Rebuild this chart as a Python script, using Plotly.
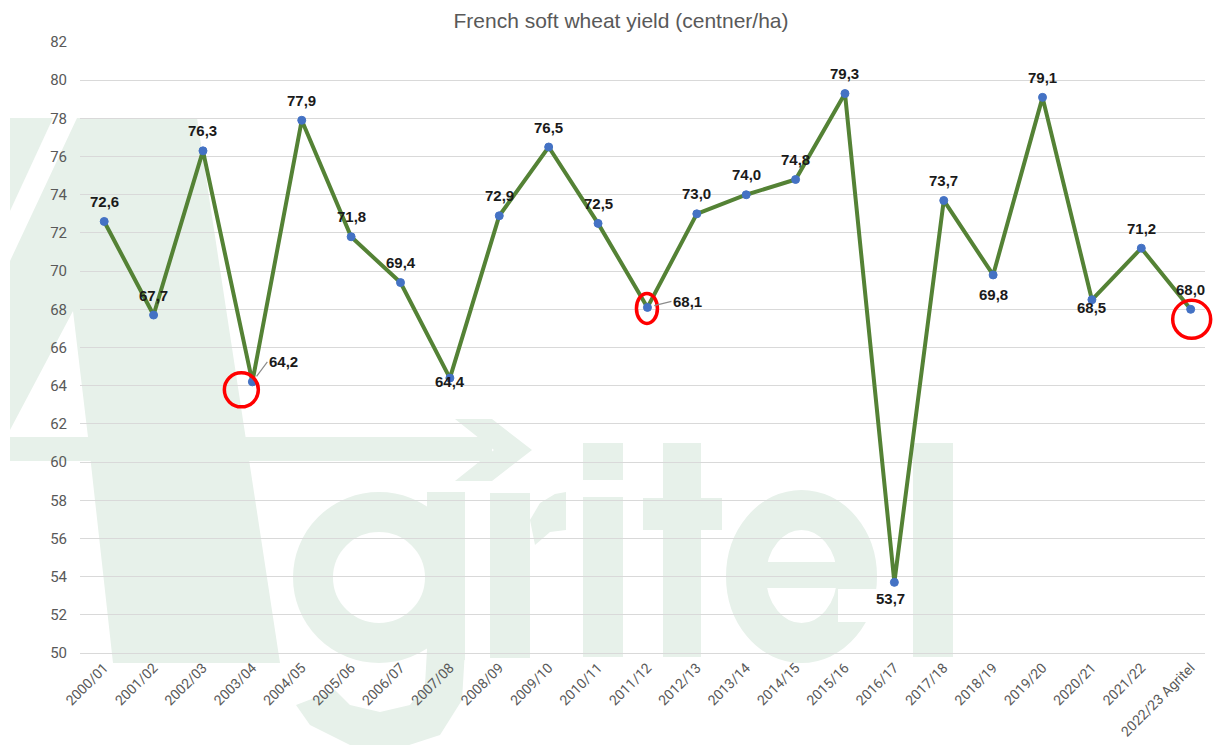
import plotly.graph_objects as go

# ---------------- data ----------------
categories = ["2000/01", "2001/02", "2002/03", "2003/04", "2004/05", "2005/06", "2006/07",
              "2007/08", "2008/09", "2009/10", "2010/11", "2011/12", "2012/13", "2013/14",
              "2014/15", "2015/16", "2016/17", "2017/18", "2018/19", "2019/20", "2020/21",
              "2021/22", "2022/23 Agritel"]
yields = [72.6, 67.7, 76.3, 64.2, 77.9, 71.8, 69.4, 64.4, 72.9, 76.5, 72.5, 68.1, 73.0,
          74.0, 74.8, 79.3, 53.7, 73.7, 69.8, 79.1, 68.5, 71.2, 68.0]
y_ticks = list(range(50, 84, 2))

# ---------------- styling ----------------
W, H = 1213, 745
# plot area in screen pixels (page body margin removed by post_script)
SL, ST, SR, SB = 80, 42, 1205, 653
ML, MT = SL, ST
MR = W - SR
MB = H - SB
PW, PH = SR - SL, SB - ST
X_RANGE = [-0.49, 22.29]
Y_RANGE = [50, 82]
NARROW = "Liberation Sans Narrow, Roboto, Arial, sans-serif"
LABEL_FONT = "Liberation Sans, Arial, sans-serif"
WM = "#e7f1ea"

# label placement (pixel offsets): default above
label_style = {
    "2003/04": dict(arrow=True, ax=15, ay=-20),
    "2007/08": dict(dy=-3),
    "2011/12": dict(arrow=True, ax=24, ay=-6),
    "2016/17": dict(dx=-4, dy=-16),
    "2018/19": dict(dy=-20),
    "2020/21": dict(dy=-8),
}
# highlight circles (pixel box relative to the point)
circle_box = {
    "2003/04": (-28, 6, -25, 9),
    "2011/12": (-11, 10, -16, 14),
    "2022/23 Agritel": (-18, 20, -29, 9),
}

x_idx = list(range(len(categories)))

fig = go.Figure()

# ---------------- watermark (Agritel logo) ----------------
def P(x, y):
    return (x - SL) / PW, (SB - y) / PH

def path(pts):
    s = ""
    for k, (x, y) in enumerate(pts):
        px, py = P(x, y)
        s += ("M" if k == 0 else "L") + f"{px:.5f},{py:.5f}"
    return s + "Z"

def add_poly(pts, color=WM):
    fig.add_shape(type="path", xref="paper", yref="paper", path=path(pts),
                  fillcolor=color, line=dict(width=0), layer="below")

def add_rect(x0, y0, x1, y1, color=WM):
    a, b = P(x0, y0)
    c, d = P(x1, y1)
    fig.add_shape(type="rect", xref="paper", yref="paper", x0=a, y0=d, x1=c, y1=b,
                  fillcolor=color, line=dict(width=0), layer="below")

def add_ring(x0, y0, x1, y1, w):
    a, b = P(x0, y0)
    c, d = P(x1, y1)
    fig.add_shape(type="circle", xref="paper", yref="paper", x0=a, y0=d, x1=c, y1=b,
                  line=dict(color=WM, width=w), layer="below")

# "A"
add_poly([(10, 118), (53, 118), (10, 211)])
add_poly([(77, 118), (197, 118), (280, 663), (113, 663), (88, 437), (73, 311),
          (10, 430), (10, 261)])
# arrow
add_rect(10, 437, 492, 461)
add_poly([(455, 419), (492, 419), (532, 450), (492, 481), (455, 481), (494, 450)])
# g
add_ring(313, 512, 445, 643, 40)
add_rect(427, 492, 465, 660)
add_poly([(465, 650), (462, 700), (440, 735), (400, 748), (350, 745), (310, 725),
          (296, 705), (335, 690), (350, 705), (380, 712), (410, 705), (425, 685), (427, 650)])
# r
add_rect(490, 493, 530, 658)
add_poly([(530, 520), (540, 503), (555, 494), (566, 492), (566, 530), (550, 532), (535, 545)])
# i
add_rect(583, 443, 623, 480)
add_rect(583, 497, 623, 657)
# t
add_rect(663, 443, 701, 657)
add_rect(643, 498, 722, 530)
# e
add_ring(746, 510, 857, 643, 40)
add_rect(745, 562, 860, 588)
add_rect(838, 589, 880, 622, color="white")
# l
add_rect(913, 443, 953, 657)

# ---------------- series ----------------
fig.add_trace(go.Scatter(
    x=x_idx, y=yields, mode="lines+markers",
    line=dict(color="#548235", width=4),
    marker=dict(color="#4472c4", size=8, line=dict(color="#4472c4", width=1)),
    hoverinfo="skip", showlegend=False,
))

# data labels
for i, (c, v) in enumerate(zip(categories, yields)):
    st = label_style.get(c, {})
    txt = f"{v:.1f}".replace(".", ",")
    common = dict(x=i, y=v, text=f"<b>{txt}</b>", xref="x", yref="y",
                  font=dict(family=LABEL_FONT, size=15, color="#1a1a1a"))
    if st.get("arrow"):
        fig.add_annotation(**common, showarrow=True, ax=st["ax"], ay=st["ay"],
                           arrowhead=0, arrowwidth=1.2, arrowcolor="#8c8c8c",
                           standoff=7, xanchor="left", yanchor="middle")
    else:
        fig.add_annotation(**common, showarrow=False,
                           xshift=st.get("dx", 0), yshift=st.get("dy", 20))

# highlight circles (paper-anchored so they are not clipped by the plot area)
for c, (x0, x1, y0, y1) in circle_box.items():
    i = categories.index(c)
    xa = (x_idx[i] - X_RANGE[0]) / (X_RANGE[1] - X_RANGE[0])
    ya = (yields[i] - Y_RANGE[0]) / (Y_RANGE[1] - Y_RANGE[0])
    fig.add_shape(type="circle", xref="paper", yref="paper",
                  xsizemode="pixel", ysizemode="pixel",
                  xanchor=xa, yanchor=ya, x0=x0, x1=x1, y0=y0, y1=y1,
                  line=dict(color="#ff0000", width=3.5), layer="above")

fig.update_layout(
    width=W, height=H,
    margin=dict(l=ML, r=MR, t=MT, b=MB, autoexpand=False),
    paper_bgcolor="white", plot_bgcolor="rgba(0,0,0,0)",
    title=dict(text="French soft wheat yield (centner/ha)",
               x=621 / W, xanchor="center",
               y=1 - 21 / H, yanchor="middle",
               font=dict(family=LABEL_FONT, size=21, color="#595959")),
    showlegend=False,
)
fig.update_xaxes(
    range=X_RANGE, tickmode="array", tickvals=x_idx, ticktext=categories,
    tickangle=-45, tickfont=dict(family=NARROW, size=14, color="#595959"),
    showgrid=False, zeroline=False, showline=True, linecolor="#d9d9d9", linewidth=1.3,
    ticks="", automargin=False,
)
fig.update_yaxes(
    range=Y_RANGE, tickvals=y_ticks, ticktext=[str(t) for t in y_ticks],
    tickfont=dict(family=NARROW, size=15, color="#595959"),
    showgrid=True, gridcolor="#d9d9d9", gridwidth=1.3, zeroline=False,
    ticks="", ticklabelstandoff=12, automargin=False,
)

fig.write_html("out.html", config={"displayModeBar": False},
               post_script="document.body.style.margin='0px';"
                           "document.body.style.overflow='hidden';")
